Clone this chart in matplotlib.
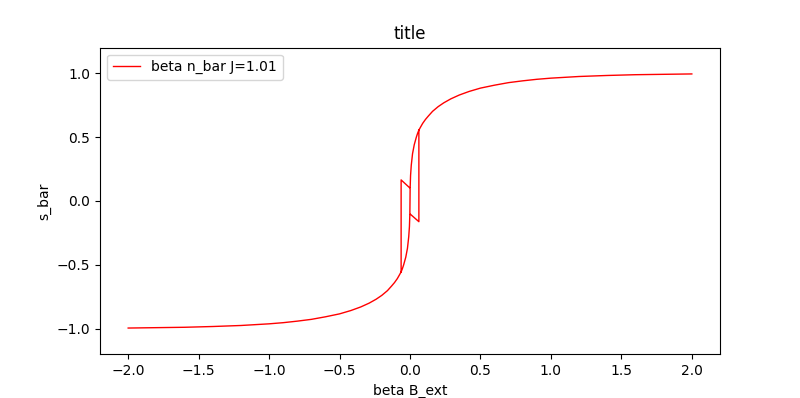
import numpy as np
import matplotlib
matplotlib.use("Agg")
import matplotlib.pyplot as plt

# lower branch
b_low = [-2.0, -1.8, -1.6, -1.4, -1.2, -1.0, -0.9, -0.8, -0.7, -0.6, -0.5, -0.42, -0.35,
         -0.29, -0.24, -0.2, -0.16, -0.13, -0.11, -0.09, -0.075, -0.063]
s_low = [-0.995, -0.992, -0.989, -0.983, -0.975, -0.962, -0.953, -0.941, -0.927, -0.907,
         -0.884, -0.858, -0.830, -0.800, -0.769, -0.739, -0.702, -0.665, -0.639, -0.608,
         -0.579, -0.555]

# steep middle part
b_mid = [-0.054, -0.045, -0.03, -0.018, -0.009, -0.004, -0.001, 0.0,
         0.001, 0.004, 0.009, 0.018, 0.03, 0.045, 0.054]
s_mid = [-0.53, -0.50, -0.44, -0.37, -0.28, -0.20, -0.10, 0.0,
         0.10, 0.20, 0.28, 0.37, 0.44, 0.50, 0.53]

# upper branch
b_up = [0.063, 0.075, 0.09, 0.11, 0.13, 0.16, 0.2, 0.24, 0.29, 0.35, 0.42, 0.5,
        0.6, 0.7, 0.8, 0.9, 1.0, 1.2, 1.4, 1.6, 1.8, 2.0]
s_up = [0.555, 0.579, 0.608, 0.639, 0.665, 0.702, 0.739, 0.769, 0.800, 0.830, 0.858,
        0.884, 0.907, 0.927, 0.941, 0.953, 0.962, 0.975, 0.983, 0.989, 0.992, 0.995]

# jumps near zero
b_jump1 = [-0.063, -0.063, -0.004]
s_jump1 = [-0.555, 0.165, 0.105]
b_jump2 = [0.004, 0.063, 0.063]
s_jump2 = [-0.105, -0.162, 0.555]

x = b_low + b_mid + b_up + [np.nan] + b_jump1 + [np.nan] + b_jump2
y = s_low + s_mid + s_up + [np.nan] + s_jump1 + [np.nan] + s_jump2

fig, ax = plt.subplots(figsize=(8, 3.98), dpi=100)
ax.plot(x, y, color='red', linewidth=1, label='beta n_bar J=1.01')
ax.set_ylim(-1.2, 1.2)
ax.set_title('title')
ax.set_xlabel('beta B_ext')
ax.set_ylabel('s_bar')
ax.legend(loc='upper left')

plt.savefig('out.png')
